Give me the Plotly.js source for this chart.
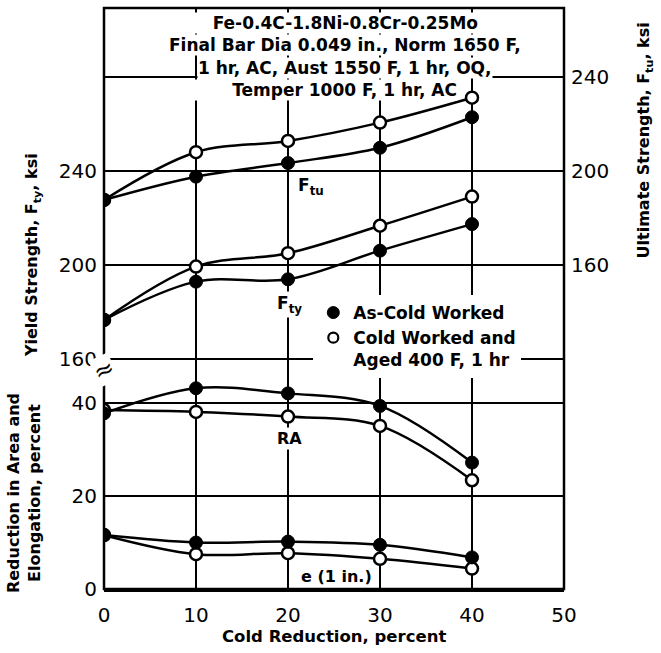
<!DOCTYPE html>
<html>
<head>
<meta charset="utf-8">
<script src="https://cdn.plot.ly/plotly-3.0.1.min.js"></script>
<style>html,body{margin:0;padding:0;background:#fff;}#chart{width:661px;height:653px;}</style>
</head>
<body>
<div id="chart"></div>
<script>
// Cold reduction, percent
const coldReduction = [0, 10, 20, 30, 40];
// Ultimate strength Ftu, ksi (right axis)
const ftuAsCold = [187.7, 197.6, 203.4, 209.9, 222.9];
const ftuAged   = [187.7, 208.0, 212.8, 220.6, 231.2];
// Yield strength Fty, ksi (left axis)
const ftyAsCold = [176.6, 192.9, 193.9, 206.1, 217.4];
const ftyAged   = [176.6, 199.3, 205.0, 216.7, 229.1];
// Reduction in area, percent
const raAsCold = [37.8, 43.2, 42.1, 39.4, 27.2];
const raAged   = [38.5, 38.1, 37.1, 35.1, 23.4];
// Elongation (1 in.), percent
const elAsCold = [11.6, 10.0, 10.2, 9.5, 6.8];
const elAged   = [11.6, 7.5, 7.7, 6.5, 4.4];

const xTicks = [0, 10, 20, 30, 40, 50];
const yieldTicks = [160, 200, 240];
const ultTicks = [160, 200, 240];
const ductTicks = [0, 20, 40];

const seriesNames = ['As-Cold Worked', 'Cold Worked and<br>Aged 400 F, 1 hr'];
const noteLines = ['Fe-0.4C-1.8Ni-0.8Cr-0.25Mo', 'Final Bar Dia 0.049 in., Norm 1650 F,', '1 hr, AC, Aust 1550 F, 1 hr, OQ,', 'Temper 1000 F, 1 hr, AC'];

const FONT = 'DejaVu Sans, Verdana, sans-serif';
const filled = {symbol: 'circle', size: 13, color: '#000', line: {color: '#000', width: 1}};
const open = {symbol: 'circle', size: 12, color: '#fff', line: {color: '#000', width: 2.5}};
const lineStyle = {color: '#000', width: 2.5, shape: 'spline', smoothing: 1};

function tr(y, yaxis, marker) {
  return {x: coldReduction, y: y, yaxis: yaxis, mode: 'lines+markers',
    line: lineStyle, marker: marker, showlegend: false, hoverinfo: 'x+y'};
}

const traces = [
  tr(ftuAged, 'y3', open), tr(ftuAsCold, 'y3', filled),
  tr(ftyAged, 'y2', open), tr(ftyAsCold, 'y2', filled),
  tr(raAged, 'y', open), tr(raAsCold, 'y', filled),
  tr(elAged, 'y', open), tr(elAsCold, 'y', filled),
  {x: [null], y: [null], yaxis: 'y', mode: 'markers', name: seriesNames[0],
   marker: {symbol: 'circle', size: 12, color: '#000', line: {color: '#000', width: 1}}, showlegend: true},
  {x: [null], y: [null], yaxis: 'y', mode: 'markers', name: seriesNames[1],
   marker: {symbol: 'circle', size: 10, color: '#fff', line: {color: '#000', width: 2.2}}, showlegend: true}
];

const tickFont = {family: FONT, size: 20, color: '#000'};
const gridStyle = {showgrid: true, gridcolor: '#000', gridwidth: 2, zeroline: false};

// pixel helpers for label placement (plot area: x 104..564, y 8..589)
const px = p => (p - 104) / 460;
const py = p => (589 - p) / 581;

const noteFont = {family: FONT, size: 17, color: '#000'};
const noteY = [23.3, 45.4, 67.5, 89.6];
const noteAnn = [
  {x: px(479), xanchor: 'right', width: 290, align: 'right'},
  {x: px(345), xanchor: 'center', align: 'center'},
  {x: px(345), xanchor: 'center', align: 'center'},
  {x: px(458), xanchor: 'right', width: 270, align: 'right'}
].map((a, i) => Object.assign({xref: 'paper', yref: 'paper', y: py(noteY[i]), yanchor: 'middle',
  text: '<b>' + noteLines[i] + '</b>', showarrow: false, bgcolor: '#fff', borderpad: 0,
  font: noteFont}, a));

const layout = {
  width: 661, height: 653,
  margin: {l: 104, r: 97, t: 8, b: 64},
  paper_bgcolor: '#fff', plot_bgcolor: '#fff',
  showlegend: true,
  font: {family: FONT, color: '#000'},
  xaxis: Object.assign({range: [0, 50], tickvals: xTicks, ticktext: xTicks.map(String),
    tickfont: tickFont, showline: true, linecolor: '#000', linewidth: 2.5,
    ticks: '', ticklabelstandoff: 6, anchor: 'y', fixedrange: true}, gridStyle),
  yaxis: Object.assign({domain: [0, 0.3855], range: [0, 48.2], tickvals: ductTicks,
    ticktext: ductTicks.map(String), tickfont: tickFont, ticks: '', ticklabelstandoff: 6,
    showline: false}, gridStyle),
  yaxis2: Object.assign({domain: [0.3855, 1], range: [157.4, 309.4], tickvals: yieldTicks,
    ticktext: yieldTicks.map(String), tickfont: tickFont, ticks: '', ticklabelstandoff: 6,
    showline: false, anchor: 'x'}, gridStyle),
  yaxis3: Object.assign({overlaying: 'y2', side: 'right', anchor: 'x', range: [117.4, 269.4],
    tickvals: ultTicks, ticktext: ultTicks.map(String), tickfont: tickFont, ticks: '',
    ticklabelstandoff: 6, showline: false}, gridStyle),
  legend: {x: 0.455, xanchor: 'left', y: 0.506, yanchor: 'top', bgcolor: '#fff',
    borderwidth: 0, font: {family: FONT, size: 17, color: '#000', weight: 'bold'},
    valign: 'top', tracegroupgap: 0, itemwidth: 30},
  shapes: [
    {type: 'rect', xref: 'paper', yref: 'paper', x0: 0, x1: 1, y0: 0, y1: 1,
     line: {color: '#000', width: 2.5}, layer: 'above'}
  ],
  annotations: noteAnn.concat([
    {xref: 'x', yref: 'y3', x: 22.5, y: 193.6, text: '<b>F<sub>tu</sub></b>', showarrow: false,
     xanchor: 'center', yanchor: 'middle', bgcolor: '#fff', borderpad: 0,
     font: {family: FONT, size: 17, color: '#000'}},
    {xref: 'x', yref: 'y2', x: 20.2, y: 183, text: '<b>F<sub>ty</sub></b>', showarrow: false,
     xanchor: 'center', yanchor: 'middle', bgcolor: '#fff', borderpad: 1,
     font: {family: FONT, size: 17, color: '#000'}},
    {xref: 'x', yref: 'y', x: 20.2, y: 32.3, text: '<b>RA</b>', showarrow: false,
     xanchor: 'center', yanchor: 'middle', bgcolor: '#fff', borderpad: 1,
     font: {family: FONT, size: 16, color: '#000'}},
    {xref: 'x', yref: 'y', x: 25.3, y: 2.6, text: '<b>e (1 in.)</b>', showarrow: false,
     xanchor: 'center', yanchor: 'middle', bgcolor: '#fff', borderpad: 0,
     font: {family: FONT, size: 16, color: '#000'}},
    {xref: 'paper', yref: 'paper', x: 0, y: py(370), text: '≈', showarrow: false,
     xanchor: 'center', yanchor: 'middle', bgcolor: '#fff', borderpad: 0, textangle: -25,
     font: {family: FONT, size: 24, color: '#000'}},
    {xref: 'paper', yref: 'paper', x: 0.5, y: -0.0826, xanchor: 'center', yanchor: 'middle',
     text: '<b>Cold Reduction, percent</b>', showarrow: false,
     font: {family: FONT, size: 16.5, color: '#000'}},
    {xref: 'paper', yref: 'paper', x: -0.154, y: 0.575, xanchor: 'center', yanchor: 'middle',
     text: '<b>Yield Strength, F<sub>ty</sub>, ksi</b>', textangle: -90, showarrow: false,
     font: {family: FONT, size: 16, color: '#000'}},
    {xref: 'paper', yref: 'paper', x: 1.176, y: 0.772, xanchor: 'center', yanchor: 'middle',
     text: '<b>Ultimate Strength, F<sub>tu</sub>, ksi</b>', textangle: -90, showarrow: false,
     font: {family: FONT, size: 16, color: '#000'}},
    {xref: 'paper', yref: 'paper', x: -0.174, y: 0.165, xanchor: 'center', yanchor: 'middle',
     text: '<b>Reduction in Area and<br>Elongation, percent</b>', textangle: -90, showarrow: false,
     font: {family: FONT, size: 16, color: '#000'}}
  ])
};

Plotly.newPlot('chart', traces, layout, {staticPlot: true, displayModeBar: false});
</script>
</body>
</html>
